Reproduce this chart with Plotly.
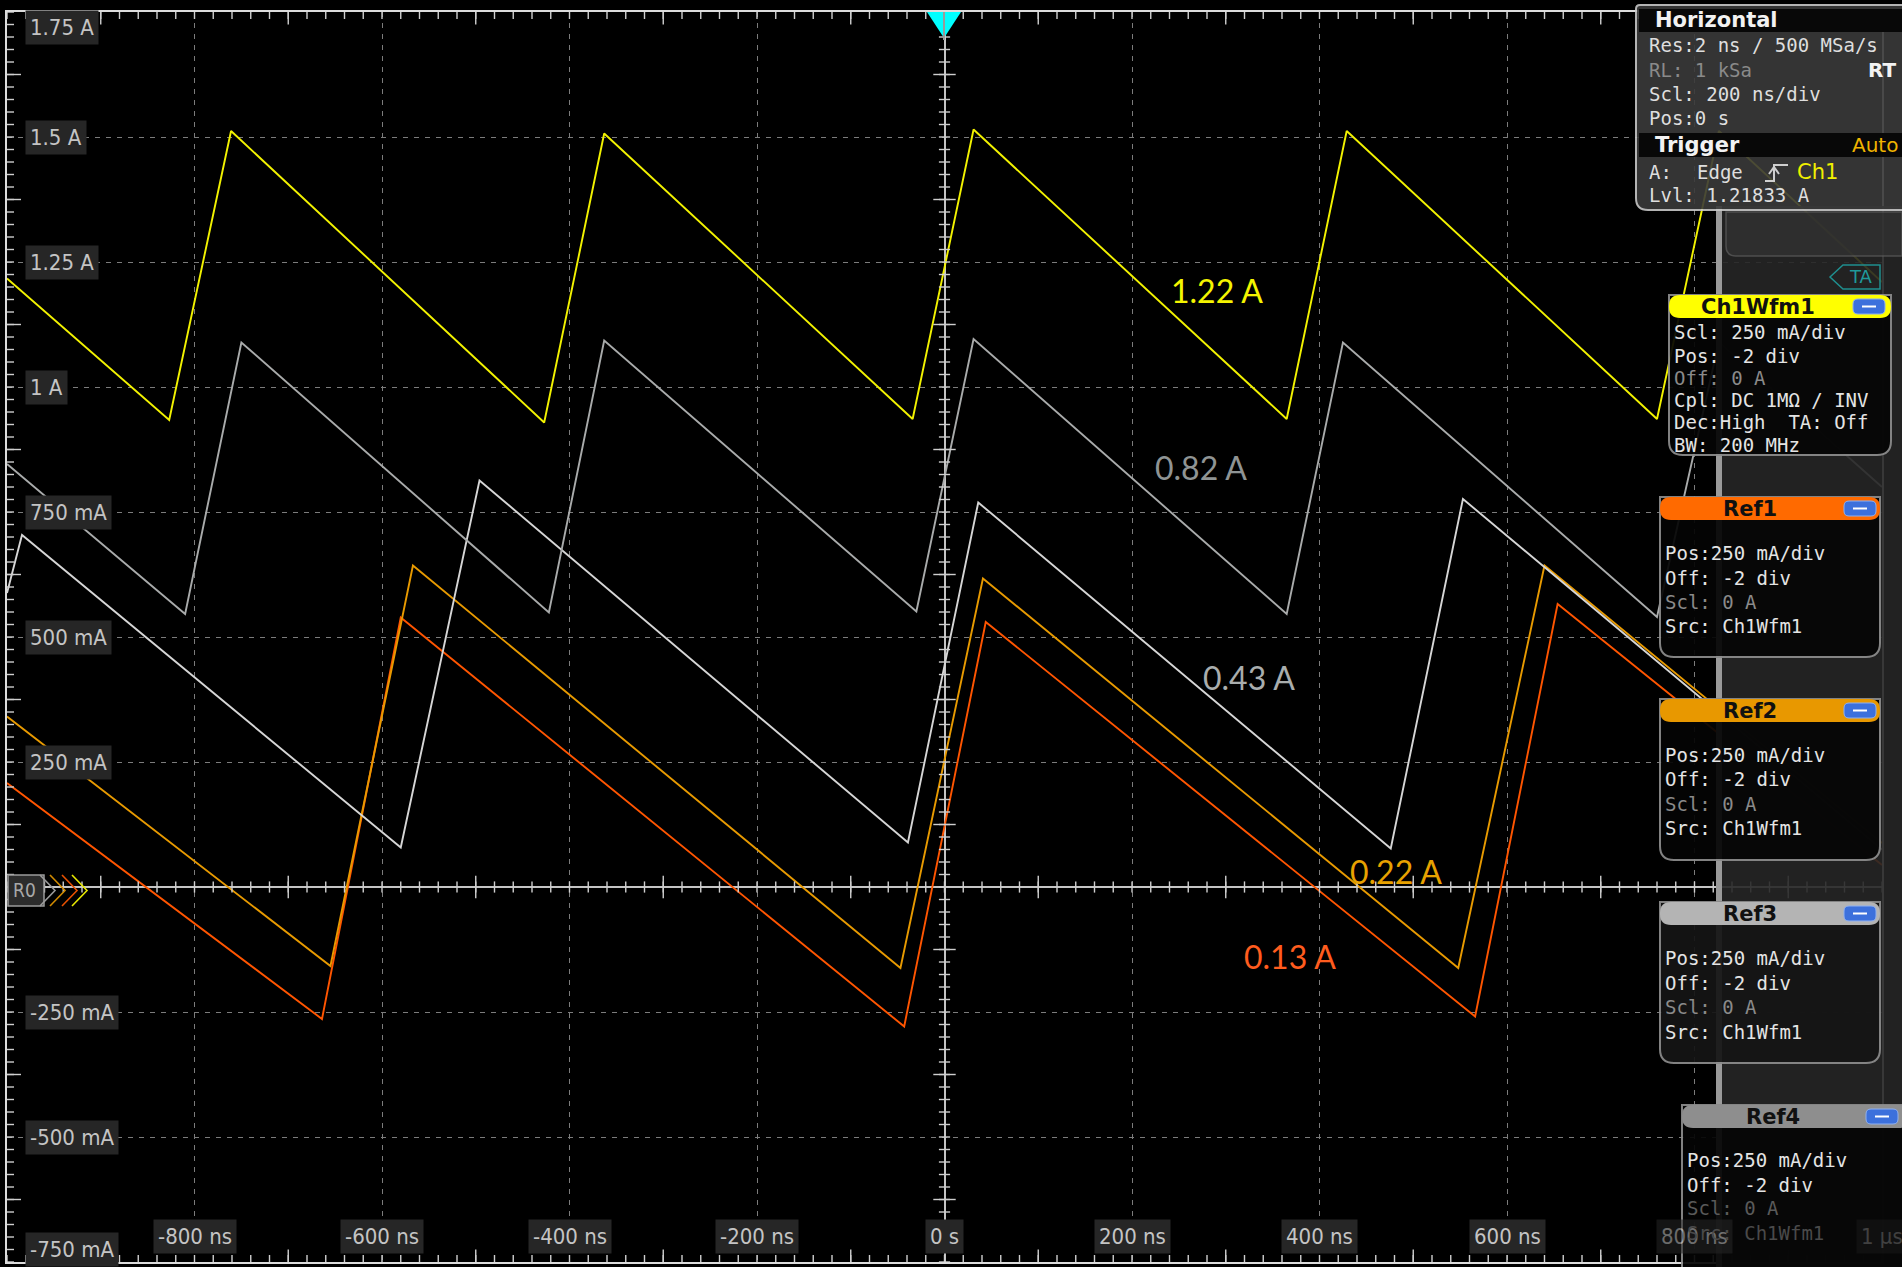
import numpy as np
import plotly.graph_objects as go

# ---------------------------------------------------------------- canvas
W, H = 1902, 1267
ML, MR, MT, MB = 7, 20, 12, 5
PW, PH = W - ML - MR, H - MT - MB

# ---------------------------------------------------------------- data
# time in ns, current in A (sawtooth vertices of each trace)
t_ch1 = [-1000, -827, -761, -427, -363, -34, 31, 365, 429, 760, 826, 1000]
i_ch1 = [1.217, 0.934, 1.512, 0.929, 1.507, 0.936, 1.515, 0.936, 1.512, 0.936, 1.512, 1.21]

t_r082 = [-1000, -810, -750, -422, -363, -30, 31, 365, 425, 760, 826, 1000]
i_r082 = [0.846, 0.546, 1.089, 0.549, 1.093, 0.551, 1.096, 0.546, 1.089, 0.540, 1.09, 0.80]

t_r043 = [-1000, -984, -580, -496, -39, 36, 476, 553, 1000]
i_r043 = [0.588, 0.704, 0.079, 0.813, 0.089, 0.769, 0.077, 0.776, 0.075]

t_r022 = [-1000, -655, -567, -47, 41, 548, 640, 1000]
i_r022 = [0.341, -0.158, 0.643, -0.162, 0.617, -0.162, 0.643, 0.088]

t_r013 = [-1000, -664, -580, -43, 44, 566, 654, 1000]
i_r013 = [0.208, -0.264, 0.539, -0.279, 0.530, -0.259, 0.566, 0.044]

trace_names = ["Ch1Wfm1", "Ref3", "Ref4", "Ref2", "Ref1"]
trace_colors = ["#f2f200", "#a9abab", "#d6d6d6", "#e89a00", "#ff5500"]
mean_labels = ["1.22 A", "0.82 A", "0.43 A", "0.22 A", "0.13 A"]
label_colors = ["#f4f400", "#8f9494", "#a9adad", "#e8a200", "#ff5c1e"]
label_pos_t = [291, 274, 325, 482, 368]               # ns
label_pos_i = [1.193, 0.839, 0.420, 0.031, -0.139]   # A

x_ticks = [-800, -600, -400, -200, 0, 200, 400, 600, 800, 1000]
x_tick_text = ["-800 ns", "-600 ns", "-400 ns", "-200 ns", "0 s",
               "200 ns", "400 ns", "600 ns", "800 ns", "1 µs"]
y_ticks = [1.75, 1.5, 1.25, 1.0, 0.75, 0.5, 0.25, -0.25, -0.5, -0.75]
y_tick_text = ["1.75 A", "1.5 A", "1.25 A", "1 A", "750 mA", "500 mA",
               "250 mA", "-250 mA", "-500 mA", "-750 mA"]

T_RANGE = [-1000, 1000]
I_RANGE = [-0.75, 1.75]

SCOPE_FONT = "Liberation Sans Narrow, DejaVu Sans Condensed, Liberation Sans, sans-serif"
PANEL_FONT = "DejaVu Sans Mono, Liberation Mono, monospace"
HEAD_FONT = "DejaVu Sans, Liberation Sans, sans-serif"
LABEL_FONT = "Lato, Open Sans, sans-serif"


def fx(x):
    return (x - ML) / PW


def fy(y):
    return (H - MB - y) / PH


fig = go.Figure()

series = [(t_ch1, i_ch1), (t_r082, i_r082), (t_r043, i_r043), (t_r022, i_r022), (t_r013, i_r013)]
# draw reference traces first, channel on top
for idx in [4, 3, 2, 1, 0]:
    t, i = series[idx]
    fig.add_trace(go.Scatter(x=t, y=i, mode="lines", name=trace_names[idx],
                             line=dict(color=trace_colors[idx], width=1.9),
                             hoverinfo="skip", showlegend=False))

# ---------------------------------------------------------------- tick marks
tick_col = "#cfcfcf"
fine_t = np.arange(-1000, 1001, 20)
half_t = np.arange(-900, 1000, 200)
fine_i = np.arange(-0.75, 1.7501, 0.025)
half_i = np.arange(-0.625, 1.75, 0.25)


def tick_trace(x, y, symbol, size):
    return go.Scatter(x=x, y=y, mode="markers", hoverinfo="skip", showlegend=False,
                      marker=dict(symbol=symbol, size=size, color=tick_col,
                                  line=dict(color=tick_col, width=1.4)))


# centre cross-hair ticks
fig.add_trace(tick_trace(fine_t, np.zeros_like(fine_t, dtype=float), "line-ns", 8))
fig.add_trace(tick_trace(half_t, np.zeros_like(half_t, dtype=float), "line-ns", 16))
fig.add_trace(tick_trace(np.zeros_like(fine_i), fine_i, "line-ew", 8))
fig.add_trace(tick_trace(np.zeros_like(half_i), half_i, "line-ew", 16))
# border ticks (half of each marker falls outside and is clipped)
for yb in I_RANGE:
    fig.add_trace(tick_trace(fine_t, np.full(fine_t.shape, yb, dtype=float), "line-ns", 10))
    fig.add_trace(tick_trace(half_t, np.full(half_t.shape, yb, dtype=float), "line-ns", 18))
fig.add_trace(tick_trace(np.full(fine_i.shape, -1000.0), fine_i, "line-ew", 10))
fig.add_trace(tick_trace(np.full(half_i.shape, -1000.0), half_i, "line-ew", 20))

# ---------------------------------------------------------------- annotations
ann = []

for k in range(5):
    ann.append(dict(x=label_pos_t[k], y=label_pos_i[k], xref="x", yref="y", text=mean_labels[k],
                    showarrow=False, xanchor="center", yanchor="middle",
                    font=dict(family=LABEL_FONT, size=32, color=label_colors[k])))

for v, s in zip(y_ticks, y_tick_text):
    shift = -15 if v == I_RANGE[1] else (13 if v == I_RANGE[0] else 0)
    ann.append(dict(x=fx(25), y=v, xref="paper", yref="y", text=s, showarrow=False,
                    xanchor="left", yanchor="middle", yshift=shift,
                    font=dict(family=SCOPE_FONT, size=22, color="#c4c4c4"),
                    bgcolor="#262626", borderpad=4))

for v, s in zip(x_ticks, x_tick_text):
    op = 1.0
    if v == 800:
        op = 0.55
    if v == 1000:
        op = 0.3
    ann.append(dict(x=v, y=0, xref="x", yref="paper", text=s, showarrow=False,
                    xanchor="center", yanchor="bottom", yshift=8, opacity=op,
                    font=dict(family=SCOPE_FONT, size=22, color="#c4c4c4"),
                    bgcolor="#262626", borderpad=4))


def ptxt(x, y, s, color="#dedede", size=19, bold=False, anchor="left", opacity=1.0, family=PANEL_FONT):
    ann.append(dict(x=fx(x), y=fy(y), xref="paper", yref="paper",
                    text=f"<b>{s}</b>" if bold else s, showarrow=False,
                    xanchor=anchor, yanchor="middle", opacity=opacity,
                    font=dict(family=family, size=size, color=color)))


# ---------------------------------------------------------------- pixel shapes
shapes = []


def P(x, y):
    return f"{x:.1f},{-y:.1f}"


def rrect(x0, y0, x1, y1, tl=0, tr=0, br=0, bl=0):
    return (f"M{P(x0 + tl, y0)} L{P(x1 - tr, y0)} Q{P(x1, y0)} {P(x1, y0 + tr)} "
            f"L{P(x1, y1 - br)} Q{P(x1, y1)} {P(x1 - br, y1)} L{P(x0 + bl, y1)} "
            f"Q{P(x0, y1)} {P(x0, y1 - bl)} L{P(x0, y0 + tl)} Q{P(x0, y0)} {P(x0 + tl, y0)} Z")


def poly(pts, closed=True):
    s = "M" + " L".join(P(x, y) for x, y in pts)
    return s + (" Z" if closed else "")


def pshape(path, fill="rgba(0,0,0,0)", line="rgba(0,0,0,0)", lw=0, opacity=1.0):
    shapes.append(dict(type="path", xref="paper", yref="paper", xsizemode="pixel", ysizemode="pixel",
                       xanchor=fx(0), yanchor=fy(0), path=path, fillcolor=fill,
                       line=dict(color=line, width=lw), layer="above", opacity=opacity))


# trigger position marker
pshape(poly([(927, 12), (961, 12), (944, 38)]), fill="#00ffff")
pshape(poly([(944, 12), (944, 40)], closed=False), line="#9a9a9a", lw=2)

# reference / channel offset markers on the zero line
pshape(rrect(8, 875, 44, 906), fill="#2c2c2c", line="#9a9a9a", lw=1.5)
for off, col in [(0, "#9a9a9a"), (10, "#d08a00"), (22, "#e85000"), (32, "#e8e800")]:
    pshape(poly([(40 + off, 875), (55 + off, 890.5), (40 + off, 906)], closed=False), line=col, lw=1.6)
ptxt(11, 890, "R0", color="#a8a8a8", size=19, family=SCOPE_FONT)

# right-hand side dock
pshape(rrect(1722, 206, 1902, 1267), fill="#262626", opacity=0.9)
pshape(rrect(1716, 206, 1722, 1267), fill="#9a9a9a")
# collapsed dock entry and trigger-offset tag
pshape(rrect(1726, 212, 1902, 256, bl=10), fill="#323232", line="#5a5a5a", lw=1.5, opacity=0.8)
pshape(poly([(1830, 277), (1843, 265), (1880, 265), (1880, 289), (1843, 289)]), line="#1f8f8f", lw=1.5)
ptxt(1861, 277, "TA", color="#1f9a9a", size=18, anchor="center", family=HEAD_FONT)

# Horizontal / Trigger panel
pshape(rrect(1636, 5, 1910, 210, tl=4, bl=12), fill="#3a3a3a", line="#c8c8c8", lw=2, opacity=0.9)
pshape(rrect(1639, 9, 1910, 32), fill="#080808")
pshape(rrect(1639, 133, 1910, 157), fill="#080808")
ptxt(1653, 20, "Horizontal", color="#f2f2f2", size=21, bold=True, family=HEAD_FONT)
ptxt(1647, 45, "Res:2 ns / 500 MSa/s")
ptxt(1647, 70, "RL: 1 kSa", color="#8a8a8a")
ptxt(1899, 70, "RT", color="#f2f2f2", size=20, bold=True, anchor="right", family=HEAD_FONT)
ptxt(1647, 94, "Scl: 200 ns/div")
ptxt(1647, 118, "Pos:0 s")
ptxt(1653, 145, "Trigger", color="#f2f2f2", size=21, bold=True, family=HEAD_FONT)
ptxt(1900, 145, "Auto", color="#f0b400", size=20, anchor="right", family=HEAD_FONT)
ptxt(1647, 172, "A:")
ptxt(1695, 172, "Edge")
pshape(poly([(1765, 181), (1774, 181), (1774, 165), (1788, 165)], closed=False), line="#cfcfcf", lw=2)
pshape(poly([(1769, 174), (1774, 167), (1779, 174)], closed=False), line="#cfcfcf", lw=2)
ptxt(1795, 172, "Ch1", color="#f0f000", size=21, family=HEAD_FONT)
ptxt(1647, 195, "Lvl: 1.21833 A")


def wfm_box(x0, y0, x1, y1, head_col, title, lines, body="#050505", title_x=None, btn_x=None):
    pshape(rrect(x0, y0, x1, y1, br=14, bl=14), fill=body, line="#8c8c8c", lw=2, opacity=0.93)
    pshape(rrect(x0, y0, x1, y0 + 23, tl=11, tr=11, br=11, bl=11), fill=head_col)
    bx = btn_x if btn_x is not None else x1 - 36
    pshape(rrect(bx, y0 + 4, bx + 32, y0 + 19, tl=5, tr=5, br=5, bl=5), fill="#3c70dc", line="#8fb0f0", lw=1)
    pshape(poly([(bx + 9, y0 + 11.5), (bx + 23, y0 + 11.5)], closed=False), line="#ffffff", lw=2)
    ptxt(title_x if title_x is not None else (x0 + x1) / 2 - 8, y0 + 12, title,
         color="#111111", size=21, bold=True, anchor="center", family=HEAD_FONT)
    for (yy, s, c) in lines:
        ptxt(x0 + 3, yy, s, color=c)


bright, dim = "#e4e4e4", "#8a8a8a"
wfm_box(1669, 295, 1891, 455, "#ffff00", "Ch1Wfm1",
        [(332, "Scl: 250 mA/div", bright), (356, "Pos: -2 div", bright), (378, "Off: 0 A", dim),
         (400, "Cpl: DC 1MΩ / INV", bright), (422, "Dec:High  TA: Off", bright), (445, "BW: 200 MHz", bright)],
        title_x=1758, btn_x=1853)
ref_lines = ["Pos:250 mA/div", "Off: -2 div", "Scl: 0 A", "Src: Ch1Wfm1"]
wfm_box(1660, 497, 1880, 657, "#ff6a00", "Ref1",
        [(553, ref_lines[0], bright), (578, ref_lines[1], bright), (602, ref_lines[2], dim), (626, ref_lines[3], bright)],
        title_x=1750)
wfm_box(1660, 699, 1880, 860, "#e89800", "Ref2",
        [(755, ref_lines[0], bright), (779, ref_lines[1], bright), (804, ref_lines[2], dim), (828, ref_lines[3], bright)],
        title_x=1750)
wfm_box(1660, 902, 1880, 1063, "#b4b4b4", "Ref3",
        [(958, ref_lines[0], bright), (983, ref_lines[1], bright), (1007, ref_lines[2], dim), (1032, ref_lines[3], bright)],
        body="#151515", title_x=1750)
wfm_box(1682, 1105, 1910, 1290, "#8e8e8e", "Ref4",
        [(1160, ref_lines[0], bright), (1185, ref_lines[1], bright), (1208, ref_lines[2], "#5a5a5a"),
         (1233, ref_lines[3], "#4a4a4a")],
        title_x=1773, btn_x=1866)

# ---------------------------------------------------------------- layout
grid_col = "#7c7c7c"
fig.update_layout(
    width=W, height=H,
    margin=dict(l=ML, r=MR, t=MT, b=MB),
    paper_bgcolor="#000000", plot_bgcolor="#000000",
    showlegend=False,
    xaxis=dict(range=T_RANGE, dtick=200, tick0=0, showgrid=True, gridcolor=grid_col, gridwidth=1.3,
               griddash="5px,6px", zeroline=True, zerolinecolor="#c4c4c4", zerolinewidth=2,
               showline=True, linecolor="#dcdcdc", linewidth=2, mirror=True,
               ticks="", showticklabels=False, fixedrange=True),
    yaxis=dict(range=I_RANGE, dtick=0.25, tick0=0, showgrid=True, gridcolor=grid_col, gridwidth=1.3,
               griddash="5px,6px", zeroline=True, zerolinecolor="#c4c4c4", zerolinewidth=2,
               showline=True, linecolor="#dcdcdc", linewidth=2, mirror=True,
               ticks="", showticklabels=False, fixedrange=True),
    annotations=ann,
    shapes=shapes,
)

fig.write_html("out.html", include_plotlyjs=True, config={"displayModeBar": False})
